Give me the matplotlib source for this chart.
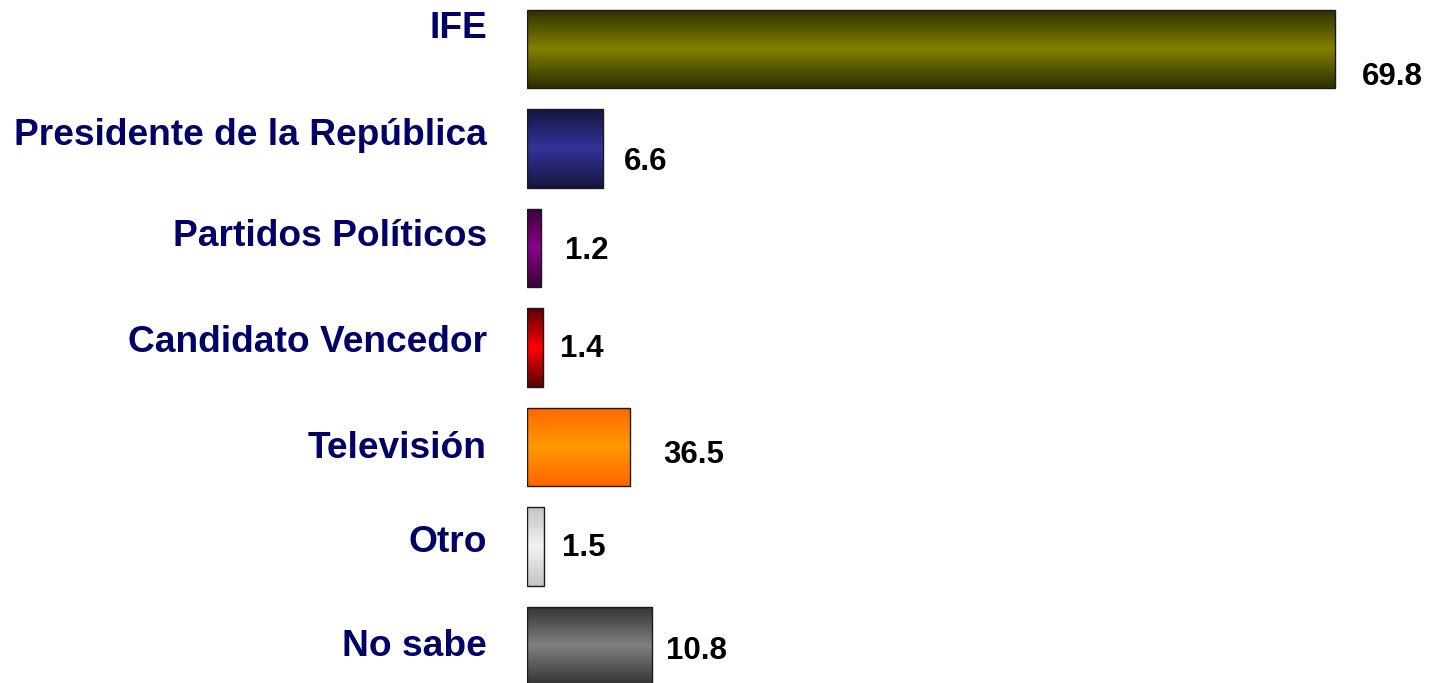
import matplotlib.pyplot as plt
import numpy as np
from matplotlib.colors import LinearSegmentedColormap

plt.rcParams['font.family'] = ['Liberation Sans', 'DejaVu Sans']

categories = ['IFE', 'Presidente de la República', 'Partidos Políticos',
              'Candidato Vencedor', 'Televisión', 'Otro', 'No sabe']
# drawn bar lengths and the printed value labels
bar_lengths = [69.8, 6.6, 1.2, 1.4, 8.9, 1.5, 10.8]
value_labels = ['69.8', '6.6', '1.2', '1.4', '36.5', '1.5', '10.8']

# (edge colour, centre colour) of each bar's vertical gradient
gradients = [('#2e2e00', '#808000'),
             ('#15153f', '#333399'),
             ('#3a003a', '#880088'),
             ('#5a0000', '#ff0000'),
             ('#ff6600', '#ff9900'),
             ('#c4c4c4', '#f2f2f2'),
             ('#333333', '#808080')]


def plot_chart():
    W, H = 1433, 683
    fig = plt.figure(figsize=(W / 100, H / 100), dpi=100)
    ax_left = 527 / W
    ax = fig.add_axes([ax_left, 0, 1 - ax_left, 1])

    pitch = 99.5
    top_center = 49
    px_per_unit = (1335 - 527) / 69.8

    y = np.arange(len(categories))
    bars = ax.barh(y, bar_lengths, height=0.785, facecolor='none',
                   edgecolor='#1a1a1a', linewidth=1.0, zorder=3)

    grad = np.concatenate([np.linspace(0, 1, 50), np.linspace(1, 0, 50)])[:, None]
    for bar, (edge, centre) in zip(bars, gradients):
        cmap = LinearSegmentedColormap.from_list('g', [edge, centre])
        x0, y0 = bar.get_x(), bar.get_y()
        w, h = bar.get_width(), bar.get_height()
        im = ax.imshow(grad, cmap=cmap, aspect='auto', interpolation='bilinear',
                       extent=[x0, x0 + w, y0 + h, y0], zorder=2)
        im.set_clip_path(bar)

    # pixel nudges for the value labels (dx from bar end, dy downward)
    nudges = [(27, 28), (20, 14), (24, 3), (17, 1), (33, 8), (18, 2), (14, 5)]
    for i, (txt, (dx, dy)) in enumerate(zip(value_labels, nudges)):
        ax.annotate(txt, xy=(bar_lengths[i], i), xytext=(dx, -dy),
                    textcoords='offset pixels', ha='left', va='center',
                    fontsize=22.5, fontweight='bold', color='black')

    # category labels drift slightly from the bar centres
    label_dy = [-21, -13, -11, -5, 1, -4, 0]
    for i, (name, dy) in enumerate(zip(categories, label_dy)):
        ax.annotate(name, xy=(487 / W, i), xycoords=('figure fraction', 'data'),
                    xytext=(0, -dy), textcoords='offset pixels',
                    ha='right', va='center', fontsize=26.7, fontweight='bold',
                    color='#000066', annotation_clip=False)

    ax.axis('off')
    ax.set_ylim((H - top_center) / pitch, -top_center / pitch)
    ax.set_xlim(0, (W - 527) / px_per_unit)

    fig.savefig('out.png', dpi=100)


if __name__ == "__main__":
    plot_chart()
